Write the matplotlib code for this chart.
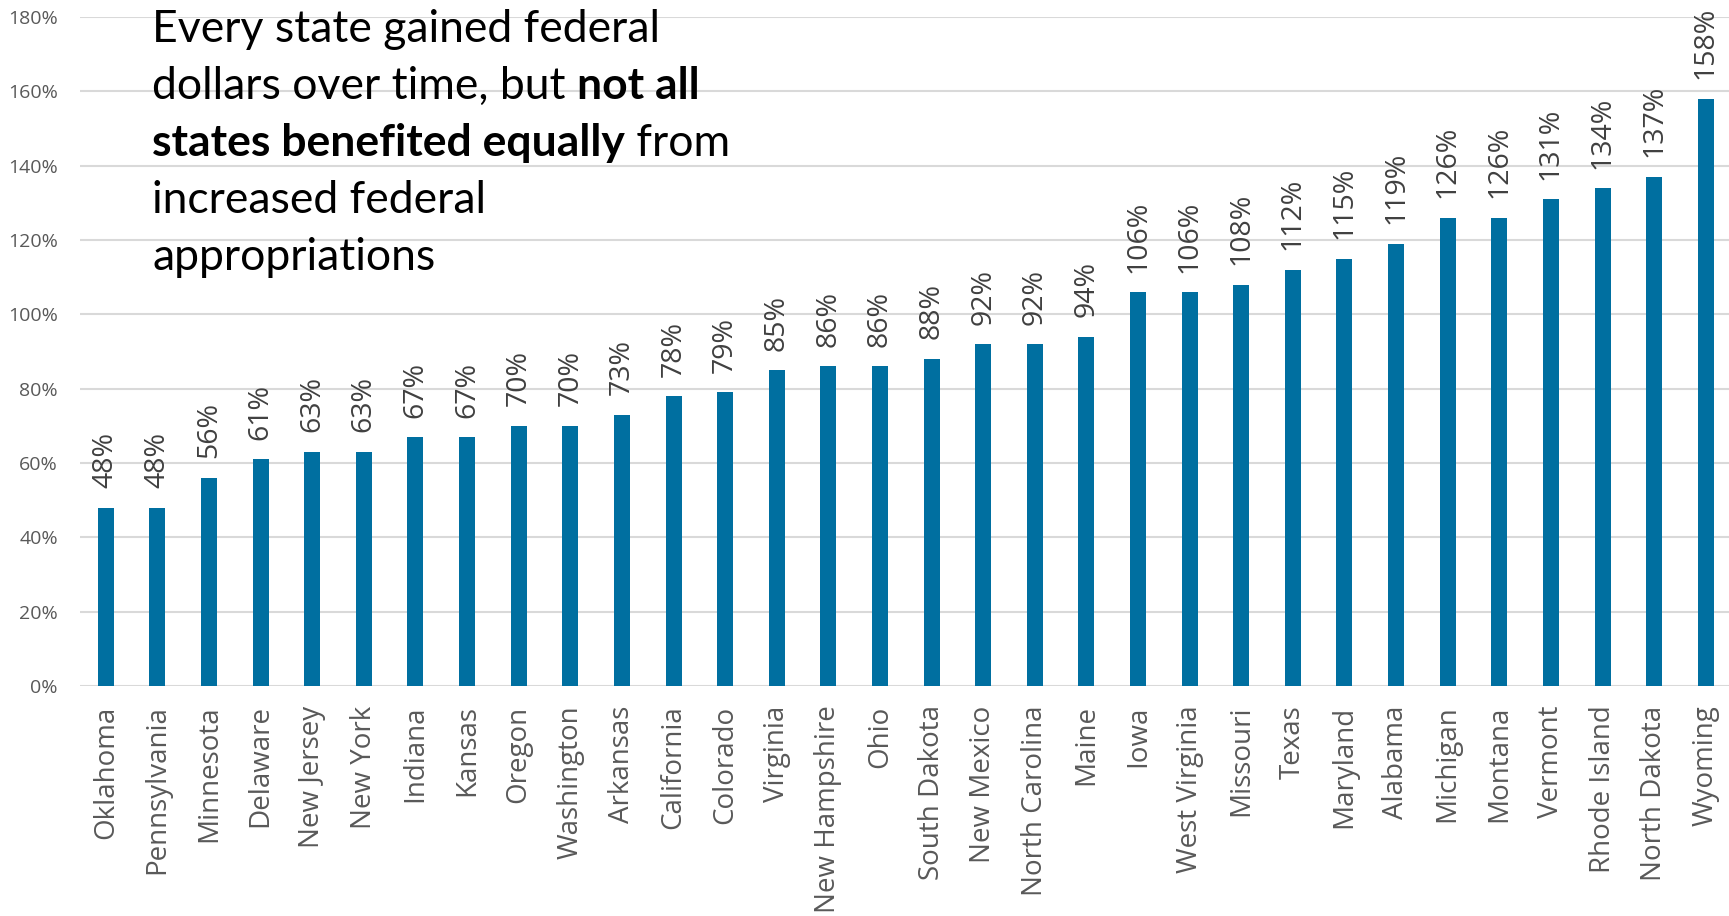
import matplotlib
matplotlib.use('Agg')
import matplotlib.pyplot as plt
from matplotlib.ticker import FuncFormatter

states = ['Oklahoma', 'Pennsylvania', 'Minnesota', 'Delaware', 'New Jersey', 'New York',
          'Indiana', 'Kansas', 'Oregon', 'Washington', 'Arkansas', 'California', 'Colorado',
          'Virginia', 'New Hampshire', 'Ohio', 'South Dakota', 'New Mexico', 'North Carolina',
          'Maine', 'Iowa', 'West Virginia', 'Missouri', 'Texas', 'Maryland', 'Alabama',
          'Michigan', 'Montana', 'Vermont', 'Rhode Island', 'North Dakota', 'Wyoming']
pct_change = [48, 48, 56, 61, 63, 63, 67, 67, 70, 70, 73, 78, 79, 85, 86, 86, 88, 92, 92,
              94, 106, 106, 108, 112, 115, 119, 126, 126, 131, 134, 137, 158]
y_ticks = [0, 20, 40, 60, 80, 100, 120, 140, 160, 180]

# headline, one entry per line, each a list of (text, bold) pieces
headline = [
    [('Every state gained federal', False)],
    [('dollars over time, but ', False), ('not all', True)],
    [('states benefited equally', True), (' from', False)],
    [('increased federal', False)],
    [('appropriations', False)],
]

W, H = 1729, 916
fig = plt.figure(figsize=(W / 100, H / 100), dpi=100)
ax = fig.add_axes([80 / W, 1 - 686 / H, 1 - 80 / W, (686 - 17) / H])

x = list(range(len(states)))
bars = ax.bar(x, pct_change, width=0.31, color='#006fa0', zorder=3)

for xi, v in zip(x, pct_change):
    ax.annotate(f'{v}%', (xi, v), xytext=(0, 14), textcoords='offset points',
                rotation=90, ha='center', va='bottom', fontsize=20.5,
                family='Open Sans', color='#404040')

ax.set_xlim(-0.5, len(states) - 0.55)
ax.set_ylim(0, 180)
ax.set_yticks(y_ticks)
ax.yaxis.set_major_formatter(FuncFormatter(lambda v, p: f'{v:.0f}%'))
ax.set_xticks(x)
ax.set_xticklabels(states, rotation=90, fontsize=20, family='Open Sans', color='#595959')
ax.tick_params(axis='x', length=0, pad=14)
ax.tick_params(axis='y', length=0, pad=16, labelsize=14, labelcolor='#595959')
for lab in ax.get_yticklabels():
    lab.set_family('Open Sans')
ax.grid(axis='y', color='#d9d9d9', linewidth=1.5, zorder=0)
for s in ax.spines.values():
    s.set_visible(False)

# headline text, pieces laid out left to right with measured widths
renderer = fig.canvas.get_renderer()
x0, base0, step = 152, 42, 57
for i, line in enumerate(headline):
    px = x0
    for txt, bold in line:
        t = fig.text(px / W, 1 - (base0 + i * step) / H, txt, fontsize=32,
                     family='Lato',
                     fontweight='bold' if bold else 'normal',
                     ha='left', va='baseline', color='black')
        px += t.get_window_extent(renderer).width

fig.savefig('out.png', dpi=100)
